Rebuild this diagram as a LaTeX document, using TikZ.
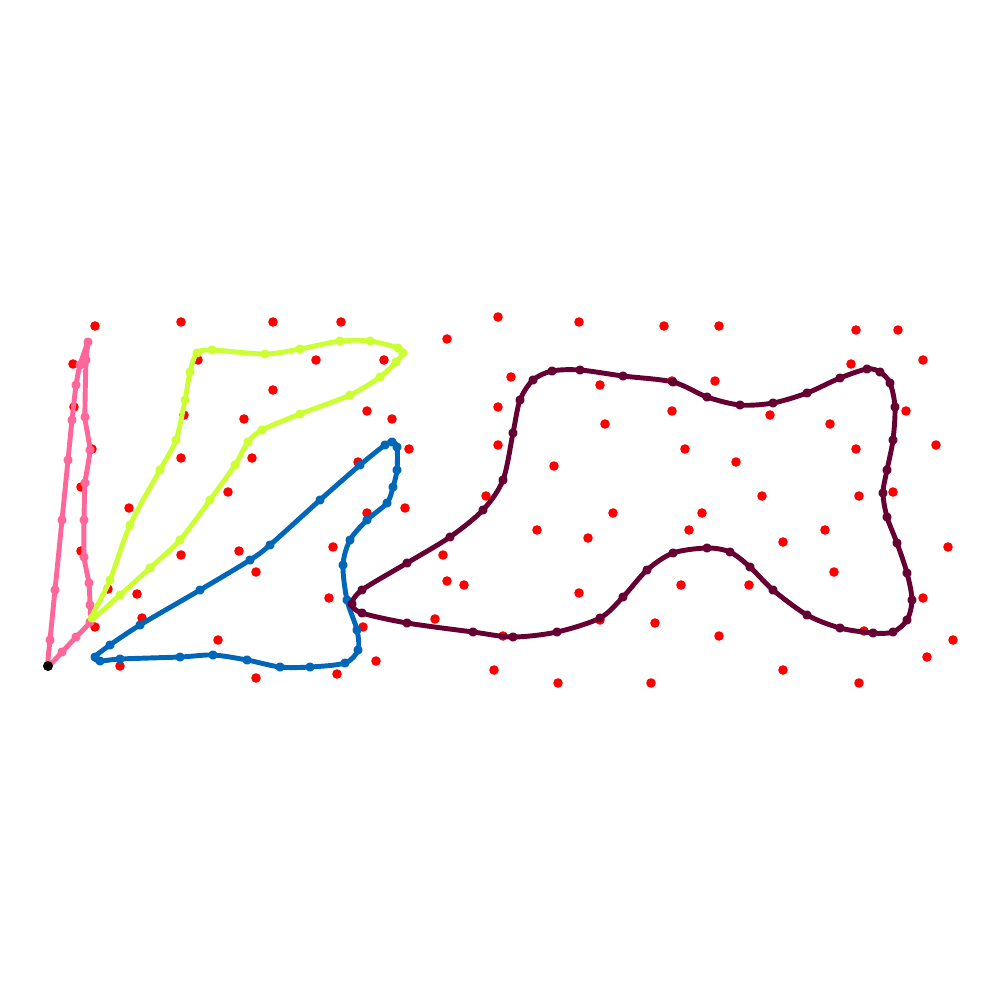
\documentclass[tikz,border=0pt]{standalone}
\usetikzlibrary{calc}
\definecolor{pinkc}{HTML}{FF6699}
\definecolor{limec}{HTML}{CCFF33}
\definecolor{bluec}{HTML}{0066B8}
\definecolor{maroonc}{HTML}{660033}
\tikzset{
 site/.style={fill=red},
 tour/.style={line width=1.4pt,line join=round,mark=*,mark size=0.6pt},
}

\begin{document}
\begin{tikzpicture}[x=0.1mm,y=-0.1mm]
\useasboundingbox (0,0) rectangle (1000,1000);
% sample sites
\foreach \x/\y in {95/326,181/322,273/322,341/322,447/339,498/317,579/322,664/326,719/326,
  856/330,898/330,923/360,851/364,73/364,198/360,316/360,384/360,511/377,600/385,672/381,
  715/381,273/390,74/407,184/415,244/419,367/411,392/419,498/407,605/424,672/411,770/415,
  830/424,906/411,92/449,181/458,252/458,409/449,358/462,498/445,554/466,685/449,736/462,
  856/449,936/445,81/487,129/508,228/492,405/508,367/513,486/496,613/513,762/496,859/496,
  893/492,702/513,81/551,181/555,239/551,333/547,537/530,588/538,689/530,825/530,783/542,
  948/547,108/589,137/594,256/572,443/555,447/581,464/585,579/593,681/585,749/585,834/572,
  923/598,329/598,142/618,95/627,363/627,435/619,600/620,655/623,503/636,719/636,864/631,
  953/640,218/640,120/666,376/661,337/674,256/678,494/670,558/683,651/683,783/670,859/683,
  927/657}
  \fill[site] (\x,\y) circle (4.8);
% tours
\draw[tour,pinkc,mark options={draw=none,fill=pinkc}] plot[smooth cycle,tension=0.3] coordinates {
  (48,666) (50,640) (55,590) (62,520) (68,460) (72,420) (76,385) (80,365) (88,342) (86,360)
  (85,417) (90,450) (85,483) (84,520) (84,557) (89,583) (90,605) (90,622) (76,637) (62,652)};
\draw[tour,limec,mark options={draw=none,fill=limec}] plot[smooth cycle,tension=0.5] coordinates {
  (92,618) (110,580) (130,525) (160,470) (176,440) (185,400) (190,372) (197,353) (212,350)
  (265,354) (300,349) (340,341) (370,341) (398,348) (403,353) (396,362) (380,377) (350,395)
  (300,414) (262,430) (248,442) (235,465) (210,500) (180,540) (150,568) (120,595)};
\draw[tour,bluec,mark options={draw=none,fill=bluec}] plot[smooth cycle,tension=0.5] coordinates {
  (95,657) (110,645) (140,625) (200,590) (250,560) (270,545) (320,500) (360,465) (385,445)
  (392,442) (397,447) (397,470) (393,487) (387,503) (367,520) (350,540) (343,565) (347,600)
  (357,630) (358,650) (345,663) (310,667) (280,667) (247,660) (213,655) (180,657) (120,659)
  (100,661)};
\draw[tour,maroonc,mark options={draw=none,fill=maroonc}] plot[smooth cycle,tension=0.5] coordinates {
  (352,604) (362,590) (407,563) (450,537) (483,510) (503,480) (513,433) (520,400) (533,380)
  (552,371) (580,370) (623,376) (673,382) (707,397) (740,405) (773,403) (807,393) (840,378)
  (867,369) (880,372) (890,383) (895,407) (893,440) (887,470) (883,493) (887,517) (897,543)
  (907,573) (912,600) (907,620) (893,632) (873,633) (840,628) (807,615) (773,590) (750,567)
  (730,552) (707,548) (673,553) (647,570) (623,597) (600,618) (557,632) (513,637) (473,632)
  (407,623) (362,613)};
% start
\fill (48,666) circle (5);
\end{tikzpicture}
\end{document}
